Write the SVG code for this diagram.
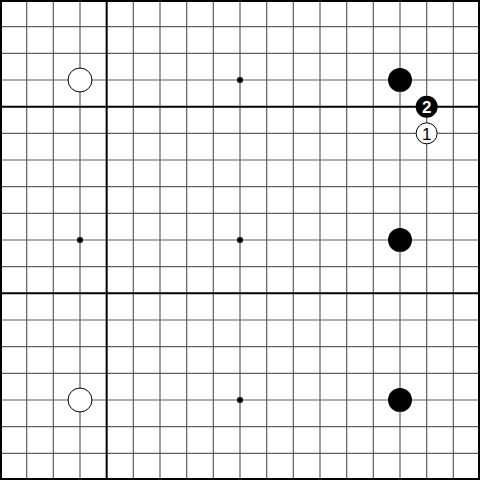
<svg xmlns="http://www.w3.org/2000/svg" width="480" height="480" viewBox="0 0 480 480">
<style>
.g{stroke:#606060;stroke-width:1.2;fill:none}
.t{stroke:#000;stroke-width:2;fill:none}
.b{fill:#000}
.w{fill:#fff;stroke:#000;stroke-width:1}
.h{fill:#000}
.lbl{font-family:"Liberation Sans",Arial,sans-serif;font-size:17px;text-anchor:middle;dominant-baseline:central}
</style>
<rect x="0" y="0" width="480" height="480" fill="#fff"/>
<g id="grid">
<path class="g" d="M26.67 0V480M53.33 0V480M80 0V480M133.33 0V480M160 0V480M186.67 0V480M213.33 0V480M240 0V480M266.67 0V480M293.33 0V480M320 0V480M346.67 0V480M373.33 0V480M400 0V480M426.67 0V480M453.33 0V480"/>
<path class="g" d="M0 26.67H480M0 53.33H480M0 80H480M0 133.33H480M0 160H480M0 186.67H480M0 213.33H480M0 240H480M0 266.67H480M0 320H480M0 346.67H480M0 373.33H480M0 400H480M0 426.67H480M0 453.33H480"/>
<path class="t" d="M106.67 0V480M0 106.67H480M0 293.33H480"/>
<rect class="t" x="1" y="1" width="478" height="478"/>
</g>
<g id="hoshi">
<circle class="h" cx="240" cy="80" r="3"/>
<circle class="h" cx="80" cy="240" r="3"/>
<circle class="h" cx="240" cy="240" r="3"/>
<circle class="h" cx="240" cy="400" r="3"/>
</g>
<g id="w1"><circle class="w" cx="80" cy="80" r="12"/></g>
<g id="b1"><circle class="b" cx="400" cy="80" r="12"/></g>
<g id="b2"><circle class="b" cx="400" cy="240" r="12"/></g>
<g id="w2"><circle class="w" cx="80" cy="400" r="12"/></g>
<g id="b3"><circle class="b" cx="400" cy="400" r="12"/></g>
<g id="m2"><circle class="b" cx="426.67" cy="106.67" r="11"/><text class="lbl" x="426.67" y="107.5" fill="#fff" font-weight="bold">2</text></g>
<g id="m1"><circle class="w" cx="426.67" cy="133.33" r="10.5"/><text class="lbl" x="426.67" y="134.3" fill="#000">1</text></g>
</svg>
